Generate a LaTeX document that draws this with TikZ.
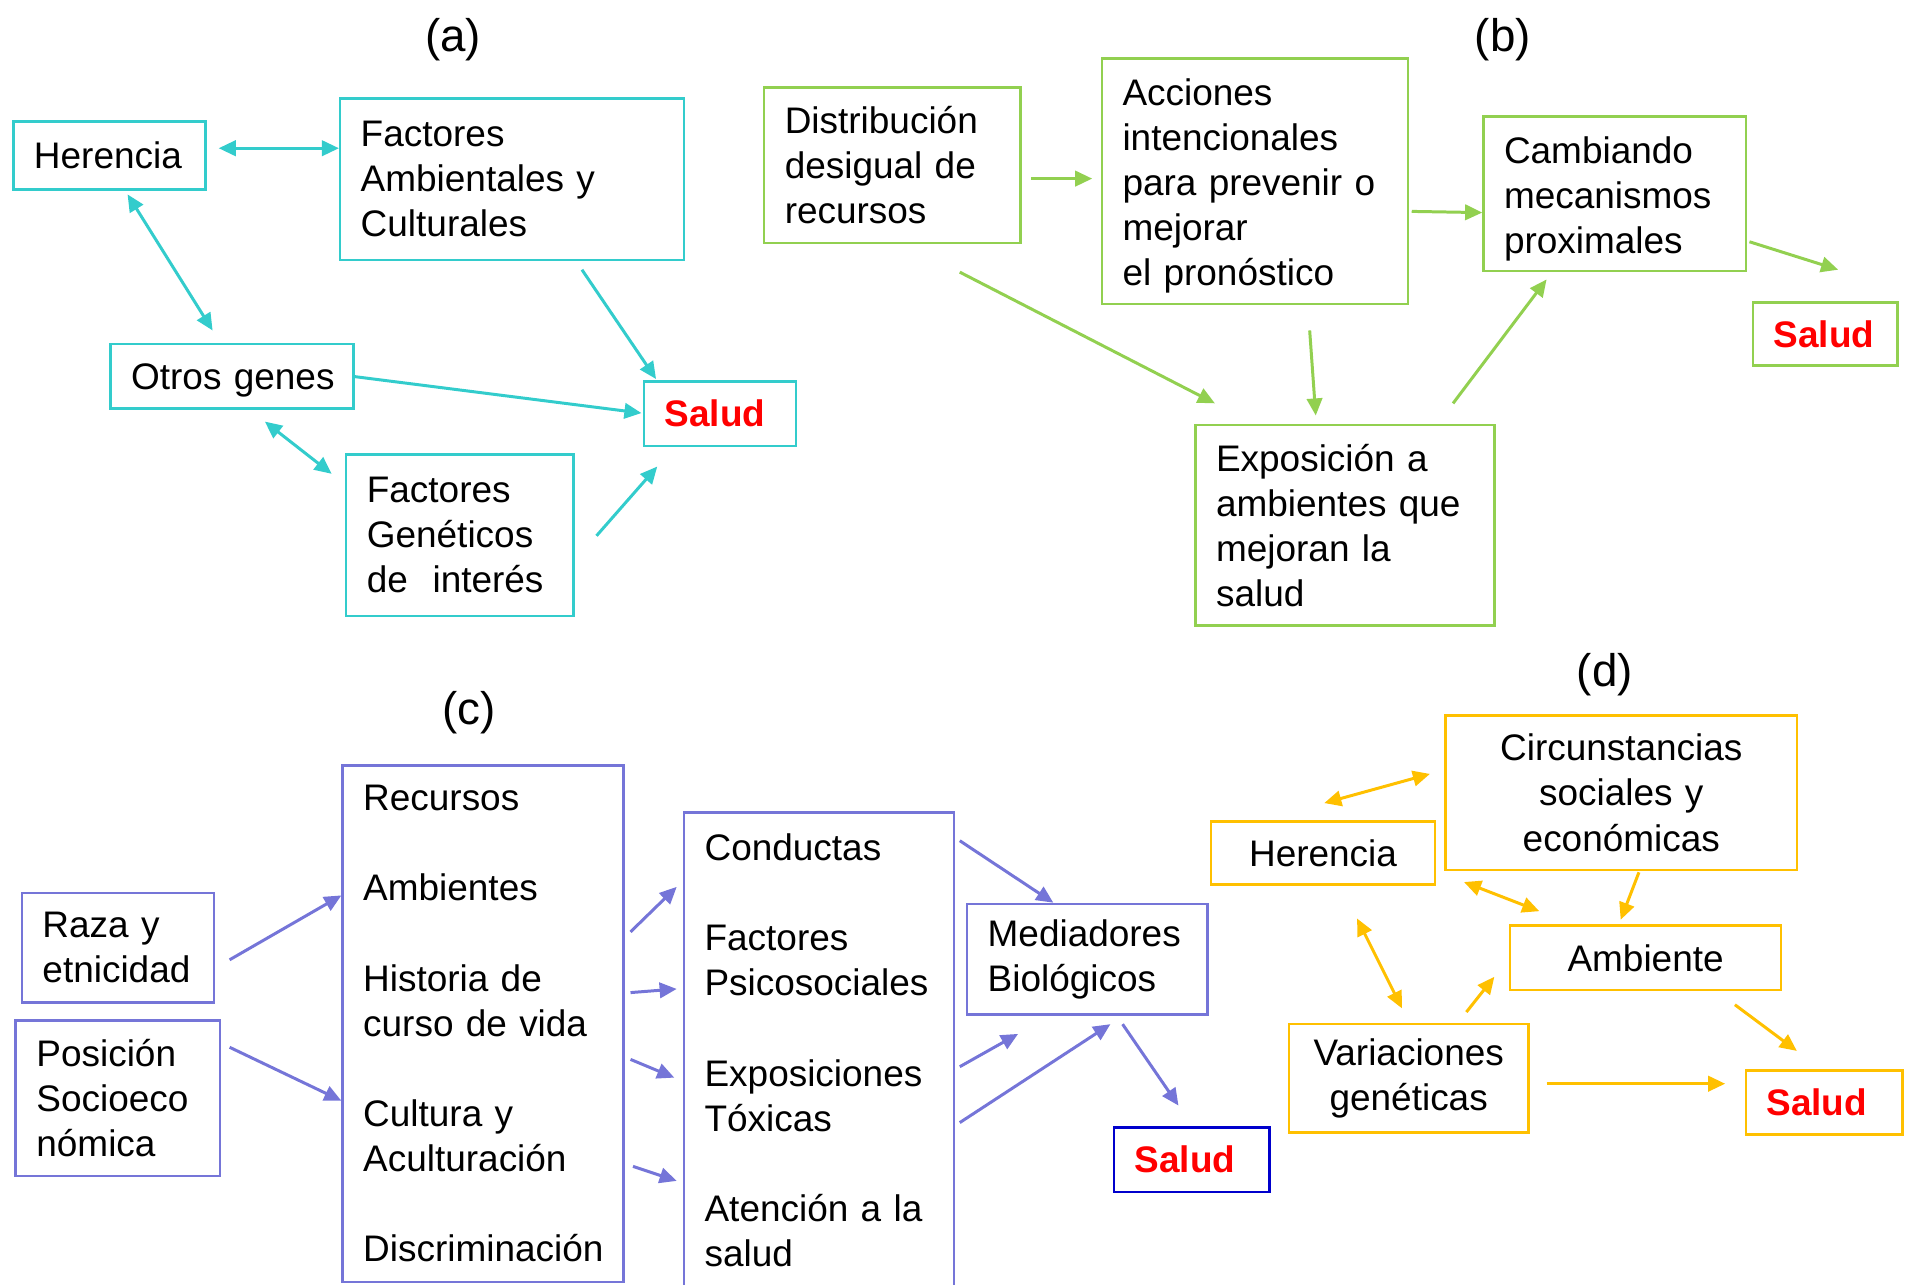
\documentclass[tikz,border=0pt]{standalone}
\usepackage{fontspec}
\setmainfont{Liberation Sans}
\usetikzlibrary{arrows.meta}
\definecolor{cyanA}{RGB}{51,204,204}
\definecolor{greenB}{RGB}{146,208,80}
\definecolor{purpC}{RGB}{117,117,216}
\definecolor{goldD}{RGB}{255,192,0}
\definecolor{redS}{RGB}{255,0,0}
\definecolor{blueS}{RGB}{0,0,204}
\begin{document}
\begin{tikzpicture}[x=0.01cm,y=-0.01cm,
  >={Triangle[length=4pt,width=3.6pt]},
  bx/.style={draw, line width=0.6pt, inner xsep=0.17cm, inner ysep=0pt,
    font=\fontsize{8.65}{10.55}\selectfont, align=left, anchor=center},
  bxa/.style={bx, draw=cyanA},
  bxb/.style={bx, draw=greenB},
  bxc/.style={bx, draw=purpC},
  bxd/.style={bx, draw=goldD},
  arra/.style={->, line width=0.7pt, draw=cyanA, fill=cyanA},
  arrb/.style={->, line width=0.7pt, draw=greenB, fill=greenB},
  arrc/.style={->, line width=0.7pt, draw=purpC, fill=purpC},
  arrd/.style={->, line width=0.7pt, draw=goldD, fill=goldD},
  lbl/.style={font=\fontsize{10.7}{12}\selectfont, inner sep=0pt}
]
\useasboundingbox (0,0) rectangle (1568,1057);

% ---------------- (a)
\node[lbl] (la) at (373,33) {(a)};
\node[bxa, minimum width=1.58cm, minimum height=0.56cm, text width=1.24cm] (herA) at (90,128) {Herencia};
\node[bxa, minimum width=2.83cm, minimum height=1.33cm, text width=2.49cm] (facA) at (421.5,147.5) {Factores\\Ambientales y\\Culturales};
\node[bxa, minimum width=2.00cm, minimum height=0.53cm, text width=1.66cm] (otrA) at (191,309.5) {\rule{0pt}{8pt}Otros~genes};
\node[bxa, minimum width=1.25cm, minimum height=0.53cm, text width=0.91cm] (salA) at (592.5,340.5) {\textcolor{redS}{\bfseries Salud}};
\node[bxa, minimum width=1.87cm, minimum height=1.33cm, text width=1.53cm] (genA) at (378.5,440.5) {Factores\\Genéticos\\de~~interés};

\coordinate (a1s) at (180,122); \coordinate (a1e) at (279,122);
\coordinate (a2s) at (105,160); \coordinate (a2e) at (175,272);
\coordinate (a3s) at (292,310); \coordinate (a3e) at (528,340);
\coordinate (a4s) at (479,222); \coordinate (a4e) at (540,312);
\coordinate (a5s) at (218,347); \coordinate (a5e) at (273,390);
\coordinate (a6s) at (491,441); \coordinate (a6e) at (541,384);
\draw[arra,<->] (a1s) -- (a1e);
\draw[arra,<->] (a2s) -- (a2e);
\draw[arra] (a3s) -- (a3e);
\draw[arra] (a4s) -- (a4e);
\draw[arra,<->] (a5s) -- (a5e);
\draw[arra] (a6s) -- (a6e);

% ---------------- (b)
\node[lbl] (lb) at (1237,33) {(b)};
\node[bxb, minimum width=2.11cm, minimum height=1.28cm, text width=1.77cm] (disB) at (734.5,136) {Distribución\\desigual de\\recursos};
\node[bxb, minimum width=2.52cm, minimum height=2.02cm, text width=2.18cm] (accB) at (1033,149) {\rule{0pt}{8.6pt}Acciones\\intencionales\\para prevenir o\\mejorar\\el pronóstico};
\node[bxb, minimum width=2.16cm, minimum height=1.27cm, text width=1.82cm] (camB) at (1329,159.5) {\rule{0pt}{8.6pt}Cambiando\\mecanismos\\proximales};
\node[bxb, minimum width=1.19cm, minimum height=0.52cm, text width=0.85cm] (salB) at (1502.5,275) {\textcolor{redS}{\bfseries Salud}};
\node[bxb, minimum width=2.46cm, minimum height=1.65cm, text width=2.12cm] (expB) at (1107,432.5) {Exposición a\\ambientes que\\mejoran la\\salud};

\coordinate (b1s) at (849,147); \coordinate (b1e) at (899,147);
\coordinate (b2s) at (1162,174); \coordinate (b2e) at (1220,175);
\coordinate (b3s) at (1440,199); \coordinate (b3e) at (1513,222);
\coordinate (b4s) at (790,224); \coordinate (b4e) at (1000,332);
\coordinate (b5s) at (1078,272); \coordinate (b5e) at (1083,342);
\coordinate (b6s) at (1196,332); \coordinate (b6e) at (1273,230);
\draw[arrb] (b1s) -- (b1e);
\draw[arrb] (b2s) -- (b2e);
\draw[arrb] (b3s) -- (b3e);
\draw[arrb] (b4s) -- (b4e);
\draw[arrb] (b5s) -- (b5e);
\draw[arrb] (b6s) -- (b6e);

% ---------------- (c)
\node[lbl] (lc) at (386,587) {(c)};
\node[bxc, minimum width=1.58cm, minimum height=0.90cm, text width=1.24cm] (razC) at (97,780) {Raza y\\etnicidad};
\node[bxc, minimum width=1.68cm, minimum height=1.28cm, text width=1.34cm] (posC) at (97,904) {Posición\\Socioeco\\nómica};
\node[bxc, minimum width=2.31cm, minimum height=4.25cm, text width=1.97cm] (b1C) at (397.5,842.5) {Recursos\\[10.55pt]Ambientes\\[10.55pt]Historia de\\curso de vida\\[10.55pt]Cultura y\\Aculturación\\[10.55pt]Discriminación};
\node[bxc, minimum width=2.22cm, minimum height=3.91cm, text width=1.88cm] (b2C) at (674,864.5) {Conductas\\[10.55pt]Factores\\Psicosociales\\[10.55pt]Exposiciones\\Tóxicas\\[10.55pt]Atención a la\\salud};
\node[bxc, minimum width=1.98cm, minimum height=0.91cm, text width=1.64cm] (medC) at (895,789.5) {Mediadores\\Biológicos};
\node[bx, draw=blueS, minimum width=1.28cm, minimum height=0.53cm, text width=0.94cm] (salC) at (981,954.5) {\textcolor{redS}{\bfseries Salud}};

\coordinate (c1s) at (189,790); \coordinate (c1e) at (281,737);
\coordinate (c2s) at (189,862); \coordinate (c2e) at (281,906);
\coordinate (c3s) at (519,767); \coordinate (c3e) at (557,730);
\coordinate (c4s) at (519,817); \coordinate (c4e) at (557,814);
\coordinate (c5s) at (519,872); \coordinate (c5e) at (555,887);
\coordinate (c6s) at (521,960); \coordinate (c6e) at (557,972);
\coordinate (c7s) at (790,692); \coordinate (c7e) at (867,743);
\coordinate (c8s) at (790,878); \coordinate (c8e) at (838,851);
\coordinate (c9s) at (790,924); \coordinate (c9e) at (914,843);
\coordinate (c10s) at (924,843); \coordinate (c10e) at (970,910);
\draw[arrc] (c1s) -- (c1e);
\draw[arrc] (c2s) -- (c2e);
\draw[arrc] (c3s) -- (c3e);
\draw[arrc] (c4s) -- (c4e);
\draw[arrc] (c5s) -- (c5e);
\draw[arrc] (c6s) -- (c6e);
\draw[arrc] (c7s) -- (c7e);
\draw[arrc] (c8s) -- (c8e);
\draw[arrc] (c9s) -- (c9e);
\draw[arrc] (c10s) -- (c10e);

% ---------------- (d)
\node[lbl] (ld) at (1321,555) {(d)};
\node[bxd, align=center, minimum width=2.89cm, minimum height=1.27cm, text width=2.55cm] (cirD) at (1334.5,652.5) {Circunstancias\\sociales y\\económicas};
\node[bxd, align=center, minimum width=1.84cm, minimum height=0.52cm, text width=1.50cm] (herD) at (1089,702) {Herencia};
\node[bxd, align=center, minimum width=2.23cm, minimum height=0.53cm, text width=1.89cm] (ambD) at (1354.5,788.5) {Ambiente};
\node[bxd, align=center, minimum width=1.97cm, minimum height=0.89cm, text width=1.63cm] (varD) at (1159.5,887.5) {Variaciones\\genéticas};
\node[bxd, minimum width=1.29cm, minimum height=0.53cm, text width=0.95cm] (salD) at (1501.5,907.5) {\textcolor{redS}{\bfseries Salud}};

\coordinate (d1s) at (1090,661); \coordinate (d1e) at (1177,637);
\coordinate (d2s) at (1205,726); \coordinate (d2e) at (1267,750);
\coordinate (d3s) at (1349,718); \coordinate (d3e) at (1334,757);
\coordinate (d4s) at (1117,756); \coordinate (d4e) at (1154,830);
\coordinate (d5s) at (1207,833); \coordinate (d5e) at (1230,804);
\coordinate (d6s) at (1428,827); \coordinate (d6e) at (1479,865);
\coordinate (d7s) at (1273,892); \coordinate (d7e) at (1420,892);
\draw[arrd,<->] (d1s) -- (d1e);
\draw[arrd,<->] (d2s) -- (d2e);
\draw[arrd] (d3s) -- (d3e);
\draw[arrd,<->] (d4s) -- (d4e);
\draw[arrd] (d5s) -- (d5e);
\draw[arrd] (d6s) -- (d6e);
\draw[arrd] (d7s) -- (d7e);
\end{tikzpicture}
\end{document}
